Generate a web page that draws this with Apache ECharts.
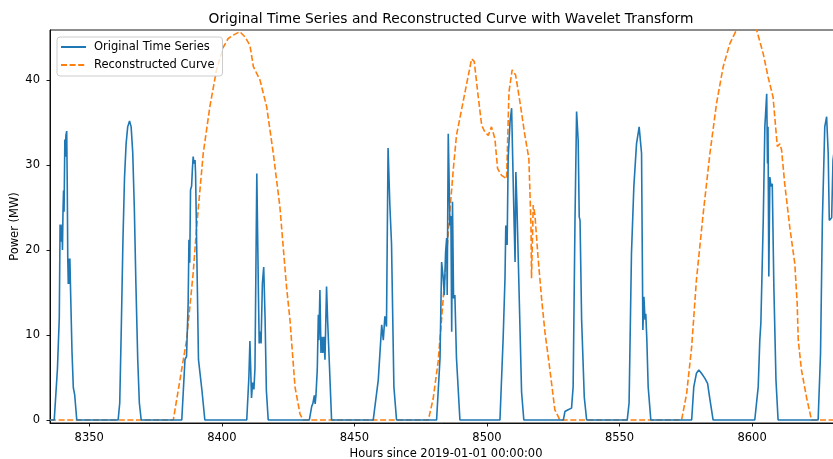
<!DOCTYPE html>
<html>
<head>
<meta charset="utf-8">
<script src="https://cdn.jsdelivr.net/npm/echarts@6/dist/echarts.min.js"></script>
<style>
  html, body { margin: 0; padding: 0; background: #fff; }
  #chart { width: 833px; height: 459px; }
</style>
</head>
<body>
<div id="chart"></div>
<script>
// hours since 2019-01-01
const origHours = [
  8335.2, 8336.8, 8338.0, 8338.7, 8339.0, 8339.3, 8339.5, 8339.7, 8339.9, 8340.1, 8340.3, 8340.5,
  8340.8, 8341.0, 8341.2, 8341.5, 8341.7, 8341.9, 8342.1, 8342.3, 8342.5, 8342.7, 8342.9, 8343.5,
  8344.0, 8344.5, 8345.3,
  8360.9, 8361.5, 8362.1, 8362.7, 8363.3, 8363.9, 8364.5, 8365.2, 8365.8, 8366.4, 8367.0, 8367.6,
  8368.3, 8368.9, 8369.6,
  8384.9, 8386.1, 8386.7, 8387.3, 8387.6, 8387.9, 8388.2, 8388.6, 8388.9, 8389.2, 8389.5, 8389.9,
  8390.1, 8391.2, 8391.6, 8392.5, 8393.6,
  8409.4, 8410.2, 8410.6, 8411.2, 8411.6, 8412.1, 8412.5, 8412.9, 8413.2, 8413.5, 8413.8, 8414.1,
  8414.5, 8414.8, 8415.3, 8415.8, 8416.3, 8416.8, 8417.5,
  8433.0, 8433.9, 8434.3, 8434.9, 8435.2, 8435.5, 8436.0, 8436.4, 8436.6, 8437.0, 8437.4, 8437.8,
  8438.1, 8438.5, 8438.9, 8439.2, 8439.5, 8439.9, 8440.5, 8441.4,
  8457.1, 8459.0, 8460.3, 8460.9, 8461.5, 8462.1, 8462.7, 8463.4, 8464.0, 8464.9, 8465.9,
  8481.0, 8482.3, 8482.9, 8483.5, 8483.9, 8484.4, 8484.8, 8485.0, 8485.4, 8485.65, 8486.0, 8486.4,
  8486.7, 8487.0, 8487.4, 8487.9, 8488.5, 8489.8,
  8504.9, 8506.1, 8506.8, 8507.1, 8507.6, 8508.0, 8508.7, 8509.3, 8509.7, 8510.2, 8510.6, 8510.9,
  8511.3, 8511.8, 8513.05, 8513.9,
  8528.8, 8529.4, 8530.6, 8531.9, 8532.5, 8533.2, 8533.8, 8534.4, 8534.8, 8535.1, 8535.7, 8536.7,
  8537.6,
  8552.9, 8553.6, 8554.5, 8555.4, 8556.4, 8557.4, 8558.3, 8558.8, 8559.2, 8559.6, 8559.9, 8560.3,
  8560.8, 8561.8,
  8577.2, 8578.0, 8579.0, 8579.9, 8580.9, 8582.2, 8583.2, 8584.1, 8585.3,
  8601.0, 8602.3, 8602.9, 8603.3, 8604.2, 8604.8, 8605.5, 8605.8, 8606.0, 8606.3, 8606.7, 8607.1,
  8607.6, 8608.2, 8609.0, 8609.8,
  8624.9, 8625.8, 8626.5, 8627.4, 8628.1, 8628.7, 8629.1, 8630.0, 8630.5, 8631.5
];
const origPower = [
  0, 0, 6, 12, 23, 23.2, 21, 23, 20, 24.5, 27, 24.5,
  33, 31, 33.5, 34, 28, 19, 16, 19, 16, 19, 16, 8,
  3.8, 3, 0,
  0, 2, 11, 21, 28.5, 32.5, 34.5, 35.2, 34.5, 31.5, 25, 16,
  7, 2, 0,
  0, 7.1, 7.5, 13.7, 21.2, 18.5, 27.1, 27.5, 29.5, 31, 30.2, 30.6,
  29, 7.1, 7, 3.5, 0,
  0, 5, 9.3, 2.6, 4.4, 3.6, 6.1, 6.3, 29, 29, 15, 9,
  10.4, 9, 16.1, 18, 12.2, 3.5, 0,
  0, 1.6, 1.9, 2.9, 1.9, 2.9, 5.9, 12.4, 9.4, 15.3, 7.9, 9.8,
  7.9, 9.8, 7.1, 7.1, 15.7, 11.8, 7.1, 0,
  0, 4.7, 11.2, 9.4, 12.2, 11, 32, 25.1, 20.8, 3.9, 0,
  0, 7.3, 18.6, 16.7, 14.7, 19.8, 21.4, 14.7, 33.7, 29.6, 22.9, 24,
  10.4, 25.7, 14.3, 14.7, 7.3, 0,
  0, 9.6, 16.7, 22.9, 20.6, 30.8, 35.1, 36.7, 30.8, 23.7, 18.6, 29.2,
  25.3, 19, 3.3, 0,
  0, 1, 1.2, 1.4, 3.9, 23.5, 36.3, 32.9, 23.9, 23.5, 11.8, 2.7,
  0,
  0, 2, 19.6, 27.5, 32.5, 34.5, 31.4, 10.6, 14.5, 11.8, 12.5, 9.4,
  3.9, 0,
  0, 3.9, 5.5, 5.9, 5.5, 4.9, 4.3, 2.4, 0,
  0, 3.9, 9.4, 11.4, 23.5, 34.5, 38.4, 30.2, 34.5, 16.9, 28.6, 27.5,
  27.8, 15.7, 4.7, 0,
  0, 7.8, 23.5, 34.5, 35.7, 31.4, 23.5, 23.8, 30.6, 33
];

const reconHours = [
  8335.2, 8381.7, 8384.2, 8386.7, 8389.2, 8390.5, 8393.0, 8395.5, 8398.0, 8400.6, 8402.4, 8404.3,
  8406.8, 8408.7, 8410.6, 8411.9, 8414.4, 8416.9, 8419.4, 8421.9, 8424.4, 8425.7, 8427.6, 8429.5,
  8430.7,
  8477.9, 8479.7, 8481.6, 8483.5, 8484.8, 8486.0, 8487.3, 8488.5, 8490.4, 8492.3, 8494.2, 8495.2,
  8496.5, 8498.0, 8499.2, 8500.5, 8501.7, 8503.0, 8504.0, 8505.5, 8507.4, 8508.3, 8509.5, 8510.8,
  8512.4, 8514.3, 8515.8, 8516.6, 8516.8, 8517.45, 8518.1, 8519.3, 8520.6, 8521.85, 8523.7, 8525.6,
  8527.5,
  8573.4, 8575.3, 8577.2, 8579.0, 8581.55, 8584.1, 8586.6, 8589.1, 8591.6, 8594.1, 8596.0, 8598.0,
  8600.0, 8601.7, 8604.2, 8606.0, 8607.9, 8609.5, 8610.5, 8611.1, 8612.3, 8614.2, 8616.1, 8617.0,
  8617.4, 8618.6, 8620.5, 8622.4, 8634.0
];
const reconPower = [
  0, 0, 4.7, 9.4, 17.3, 22.7, 31.4, 36.9, 41.2, 43.9, 44.9, 45.3,
  45.7, 45.1, 44.1, 41.6, 40, 36.9, 31.4, 25.1, 15.7, 11.8, 3.9, 0.7,
  0,
  0, 2.5, 6.9, 14.3, 19.5, 24.5, 29.5, 33.5, 36.5, 39.5, 42.5, 42.2,
  38.6, 34.7, 33.9, 33.5, 34.5, 33.1, 29.6, 28.8, 28.4, 38.6, 41.2, 40.6,
  37.5, 33.5, 30.8, 22.9, 16.7, 25.3, 24.1, 19, 14.3, 10.4, 6, 1.2,
  0,
  0, 3.1, 8.6, 16.5, 24.3, 31.4, 37.3, 41.6, 44.3, 45.9, 46.8, 47.2,
  46.7, 45.9, 43.1, 40.4, 38, 32.2, 32.5, 31.8, 27.8, 22.7, 18.4, 13.7,
  9.4, 5.9, 2.7, 0, 0
];

const xTicks = [8350, 8400, 8450, 8500, 8550, 8600];
const yTicks = [0, 10, 20, 30, 40];

const FONT = 'DejaVu Sans';

const chart = echarts.init(document.getElementById('chart'));

const axisCommon = {
  type: 'value',
  splitLine: { show: false },
  axisLine: { show: true, onZero: false, lineStyle: { color: '#000', width: 0.9 } },
  nameMoveOverlap: false,
  nameTextStyle: { fontFamily: FONT, fontSize: 11.5, color: '#000' }
};

chart.setOption({
  animation: false,
  title: {
    text: 'Original Time Series and Reconstructed Curve with Wavelet Transform',
    left: 446,
    top: 7,
    textAlign: 'center',
    textStyle: { fontFamily: FONT, fontSize: 13.8, fontWeight: 'normal', color: '#000' }
  },
  grid: {
    left: 50, right: -9, top: 30, bottom: 36,
    outerBoundsMode: 'none',
    containLabel: false,
    show: true, borderColor: '#000', borderWidth: 0.9
  },
  legend: {
    orient: 'vertical',
    left: 57,
    top: 37,
    padding: [3, 8, 4, 3],
    itemGap: 4,
    itemWidth: 25,
    itemHeight: 14,
    backgroundColor: 'rgba(255,255,255,0.8)',
    borderColor: '#cccccc',
    borderWidth: 1,
    borderRadius: 3,
    itemStyle: { opacity: 0 },
    textStyle: { fontFamily: FONT, fontSize: 11.5, color: '#000', padding: [0, 0, 0, 3], lineHeight: 14 },
    data: ['Original Time Series', 'Reconstructed Curve']
  },
  xAxis: Object.assign({}, axisCommon, {
    min: 8335.2,
    max: 8633.9,
    name: 'Hours since 2019-01-01 00:00:00',
    nameLocation: 'middle',
    nameGap: 25,
    axisTick: { show: true, length: 3.5, customValues: xTicks, lineStyle: { color: '#000', width: 0.9 } },
    axisLabel: {
      customValues: xTicks, margin: 9, fontFamily: FONT, fontSize: 11.5, color: '#000',
      formatter: v => String(v)
    }
  }),
  yAxis: Object.assign({}, axisCommon, {
    min: -0.35,
    max: 45.9,
    name: 'Power (MW)',
    nameLocation: 'middle',
    nameGap: 29,
    axisTick: { show: true, length: 3.5, customValues: yTicks, lineStyle: { color: '#000', width: 0.9 } },
    axisLabel: {
      customValues: yTicks, margin: 10, fontFamily: FONT, fontSize: 11.5, color: '#000',
      formatter: v => String(v)
    }
  }),
  series: [
    {
      name: 'Original Time Series',
      type: 'line',
      symbol: 'none',
      data: origHours.map((h, i) => [h, origPower[i]]),
      lineStyle: { color: '#1f77b4', width: 1.6 },
      itemStyle: { color: '#1f77b4' },
      z: 3
    },
    {
      name: 'Reconstructed Curve',
      type: 'line',
      symbol: 'none',
      data: reconHours.map((h, i) => [h, reconPower[i]]),
      lineStyle: { color: '#ff7f0e', width: 1.6, type: [6, 2.6] },
      itemStyle: { color: '#ff7f0e' },
      z: 2
    }
  ]
});
</script>
</body>
</html>
